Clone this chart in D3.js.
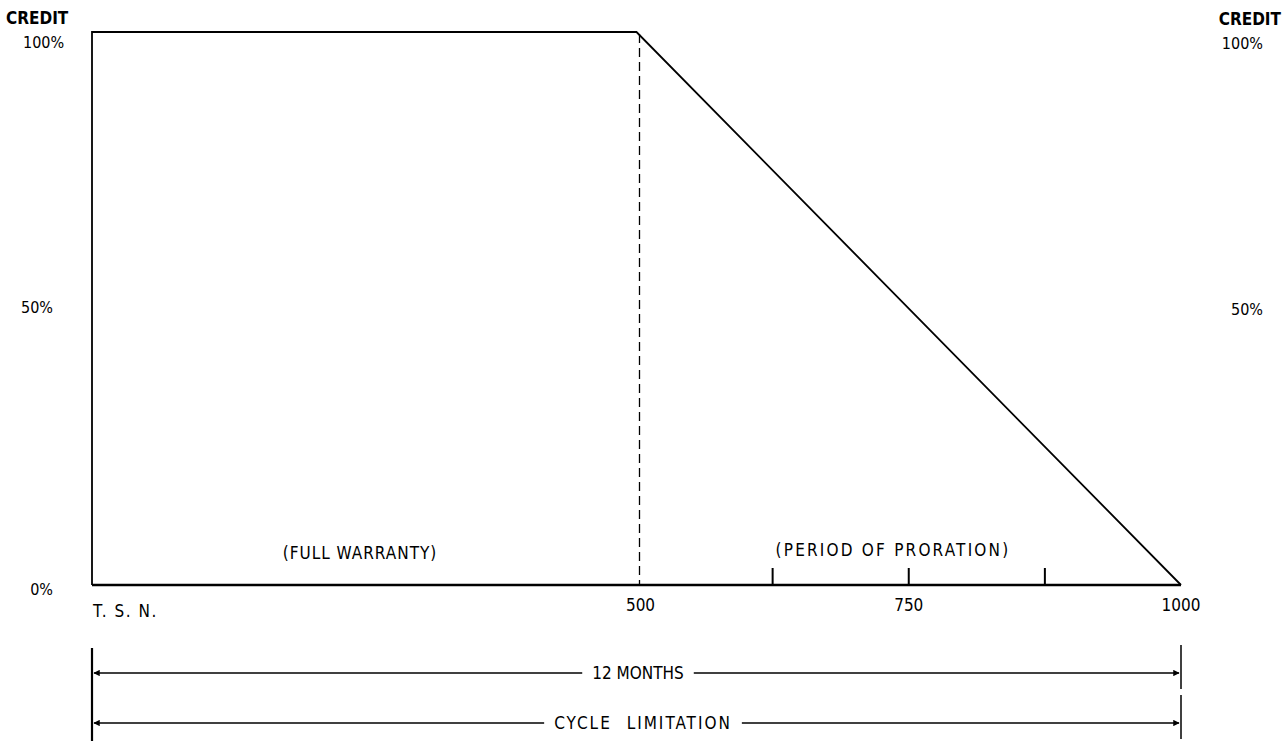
<!DOCTYPE html>
<html>
<head>
<meta charset="utf-8">
<script src="https://cdn.jsdelivr.net/npm/d3@7"></script>
<style>
  body { margin: 0; background: #fff; }
  text { font-family: "DejaVu Sans Condensed", "Liberation Sans Narrow", "DejaVu Sans", sans-serif; fill: #000; }
</style>
</head>
<body>
<div id="chart"></div>
<script>
// warranty credit curve (cycles since new -> credit %)
var cycles = [0, 0, 500, 1000];
var credit = [0, 100, 100, 0];
var tickMarks = [625, 750, 875];
var xLabels = [500, 750, 1000];
var yLabels = [100, 50, 0];
var periods = ["(FULL WARRANTY)", "(PERIOD OF PRORATION)"];
var spans = ["12 MONTHS", "CYCLE LIMITATION"];

var width = 1284, height = 741;

var svg = d3.select("#chart").append("svg")
    .attr("width", width)
    .attr("height", height);

var x = d3.scaleLinear().domain([0, 1000]).range([92, 1181]);
var y = d3.scaleLinear().domain([0, 100]).range([585, 32]);

var pts = cycles.map(function(c, i) { return [c, credit[i]]; });

// credit outline
svg.append("path")
    .attr("d", d3.line().x(function(d) { return x(d[0]); }).y(function(d) { return y(d[1]); })(pts))
    .attr("fill", "none")
    .attr("stroke", "#000")
    .attr("stroke-width", 1.8);

// bottom axis line
svg.append("line")
    .attr("x1", x(0)).attr("x2", x(1000))
    .attr("y1", y(0)).attr("y2", y(0))
    .attr("stroke", "#000").attr("stroke-width", 2.4);

// dashed divider at 500
svg.append("line")
    .attr("x1", x(500) + 3).attr("x2", x(500) + 3)
    .attr("y1", y(100) + 2).attr("y2", y(0))
    .attr("stroke", "#000").attr("stroke-width", 1.3)
    .attr("stroke-dasharray", "9,5");

// small ticks in proration period
svg.selectAll(".tk").data(tickMarks).enter().append("line")
    .attr("x1", function(d) { return x(d); }).attr("x2", function(d) { return x(d); })
    .attr("y1", y(0) - 17).attr("y2", y(0))
    .attr("stroke", "#000").attr("stroke-width", 2);

// x labels
svg.selectAll(".xl").data(xLabels).enter().append("text")
    .attr("x", function(d) { return x(d) + (d === 500 ? 4 : 0); })
    .attr("y", 611)
    .attr("text-anchor", "middle")
    .attr("font-size", 17)
    .text(function(d) { return d; });

svg.append("text").attr("x", x(0) + 1).attr("y", 617)
    .attr("font-size", 17).attr("letter-spacing", 1.5).text("T. S. N.");

// y labels on left and right
svg.selectAll(".yl").data(yLabels).enter().append("text")
    .attr("x", function(d) { return d === 100 ? 23 : 53; })
    .attr("y", function(d) { return y(d) + (d === 100 ? 16 : d === 0 ? 10 : 4); })
    .attr("text-anchor", function(d) { return d === 100 ? "start" : "end"; })
    .attr("font-size", 16)
    .text(function(d) { return d + "%"; });

svg.selectAll(".yr").data(yLabels.filter(function(d) { return d > 0; })).enter().append("text")
    .attr("x", 1263).attr("y", function(d) { return y(d) + (d === 100 ? 17 : 6); })
    .attr("text-anchor", "end")
    .attr("font-size", 16)
    .text(function(d) { return d + "%"; });

svg.append("text").attr("x", 6).attr("y", 24).attr("font-size", 17).attr("font-weight", "bold").text("CREDIT");
svg.append("text").attr("x", 1281).attr("y", 25).attr("text-anchor", "end")
    .attr("font-size", 17).attr("font-weight", "bold").text("CREDIT");

// period labels
svg.selectAll(".pl").data(periods).enter().append("text")
    .attr("x", function(d, i) { return i === 0 ? 360 : 893; })
    .attr("y", function(d, i) { return i === 0 ? 559 : 556; })
    .attr("text-anchor", "middle")
    .attr("font-size", 17)
    .attr("letter-spacing", function(d, i) { return i === 0 ? 1 : 2.2; })
    .text(function(d) { return d; });

// span arrows
var defs = svg.append("defs");
defs.append("marker").attr("id", "ah")
    .attr("viewBox", "0 0 10 10").attr("refX", 9).attr("refY", 5)
    .attr("markerWidth", 5).attr("markerHeight", 4).attr("orient", "auto-start-reverse")
    .append("path").attr("d", "M0,0L10,5L0,10Z").attr("fill", "#000");

var spanY = [673, 723];
var spanMid = [638, 643];
spans.forEach(function(label, i) {
    var yy = spanY[i];
    var g = svg.append("g");
    g.append("line").attr("x1", x(0)).attr("x2", x(0))
        .attr("y1", yy - 25).attr("y2", Math.min(yy + 25, height))
        .attr("stroke", "#000").attr("stroke-width", 2.2);
    g.append("line").attr("x1", x(1000)).attr("x2", x(1000))
        .attr("y1", yy - 28).attr("y2", Math.min(yy + 16, height))
        .attr("stroke", "#000").attr("stroke-width", 1.5);
    var t = g.append("text").attr("x", spanMid[i]).attr("y", yy + 6)
        .attr("text-anchor", "middle")
        .attr("font-size", 17)
        .attr("letter-spacing", i === 1 ? 2 : 0)
        .attr("word-spacing", i === 1 ? 8 : 0)
        .text(label);
    var bb = t.node().getBBox();
    g.append("line").attr("x1", bb.x - 10).attr("x2", x(0) + 2)
        .attr("y1", yy).attr("y2", yy)
        .attr("stroke", "#000").attr("stroke-width", 1.6)
        .attr("marker-end", "url(#ah)");
    g.append("line").attr("x1", bb.x + bb.width + 10).attr("x2", x(1000) - 2)
        .attr("y1", yy).attr("y2", yy)
        .attr("stroke", "#000").attr("stroke-width", 1.6)
        .attr("marker-end", "url(#ah)");
});
</script>
</body>
</html>
